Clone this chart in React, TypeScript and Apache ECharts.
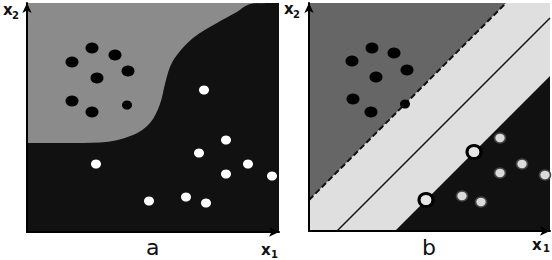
import React, { useEffect, useRef } from "react";
import * as echarts from "echarts";

// Panel a: decision boundary (x, y in panel units, y up from bottom)
const boundaryA: number[][] = [
  [0, 89], [40, 89], [73, 89.5], [106, 97], [123, 109], [133, 128], [138, 148],
  [143, 165], [150, 177], [166, 194], [190, 209], [208, 219], [226, 228.5], [252, 229],
];
const blackA: number[][] = [
  [65, 184], [88, 177], [45, 170], [101, 161], [70, 154], [45, 131], [65, 120],
];
const blackSmallA: number[][] = [[100, 127]];
const whiteA: number[][] = [
  [177, 142], [199, 92], [172, 79], [69, 68], [221, 68], [199, 58], [245, 56],
  [159, 35], [122, 31], [179, 29],
];

// Panel b: margin lines
const marginUpperB: number[][] = [[0, 31], [197, 228]];
const hyperplaneB: number[][] = [[28, 0], [241, 213]];
const marginLowerB: number[][] = [[86, 0], [241, 155]];
const blackB: number[][] = [
  [63, 183], [85, 178], [43, 170], [98, 161], [67, 154], [44, 132], [62, 119],
];
const blackSmallB: number[][] = [[96, 127]];
const whiteB: number[][] = [
  [191, 93], [213, 67], [191, 58], [236, 56], [153, 35], [172, 29],
];
const supportB: number[][] = [[165, 79], [117, 31]];

// Labels: text, x, y (baseline), size, weight
const labels: [string, number, number, number, string][] = [
  ["x", 3, 15, 15, "bold"],
  ["2", 12, 19, 10, "bold"],
  ["a", 146, 255, 22, "normal"],
  ["x", 261, 255, 15, "bold"],
  ["1", 271, 258, 10, "bold"],
  ["x", 284, 14, 15, "bold"],
  ["2", 293, 18, 10, "bold"],
  ["b", 422, 255, 22, "normal"],
  ["x", 532, 250, 15, "bold"],
  ["1", 543, 252, 10, "bold"],
];

export default function App() {
  const ref = useRef<HTMLDivElement>(null);
  useEffect(() => {
    if (!ref.current) return;
    const chart = echarts.init(ref.current, undefined, { renderer: "svg" });
    const axisCommon = (max: number, gridIndex: number) => ({
      type: "value",
      gridIndex,
      min: 0,
      max,
      z: 10,
      axisLine: {
        show: true,
        onZero: false,
        symbol: ["none", "arrow"],
        symbolSize: [7, 10],
        lineStyle: { color: "#000", width: 2 },
      },
      axisTick: { show: false },
      axisLabel: { show: false },
      splitLine: { show: false },
    });
    const lineS = (data: number[][], xi: number, extra: any) => ({
      type: "line",
      xAxisIndex: xi,
      yAxisIndex: xi,
      data,
      symbol: "none",
      silent: true,
      ...extra,
    });
    const scat = (data: number[][], xi: number, size: any, style: any) => ({
      type: "scatter",
      xAxisIndex: xi,
      yAxisIndex: xi,
      data,
      symbol: "circle",
      symbolSize: size,
      itemStyle: { opacity: 1, ...style },
      silent: true,
      z: 5,
    });
    chart.setOption({
      animation: false,
      grid: [
        { left: 27, top: 3, width: 252, height: 229, show: true, backgroundColor: "#8b8b8b", borderWidth: 0 },
        { left: 309, top: 3, width: 241, height: 228, show: true, backgroundColor: "#dfdfdf", borderWidth: 0 },
      ],
      xAxis: [axisCommon(252, 0), axisCommon(241, 1)],
      yAxis: [axisCommon(229, 0), axisCommon(228, 1)],
      series: [
        lineS(boundaryA, 0, {
          smooth: 0.35,
          lineStyle: { width: 0 },
          areaStyle: { color: "#111", opacity: 1, origin: "start" },
        }),
        scat(blackA, 0, [13, 11], { color: "#000" }),
        scat(blackSmallA, 0, [10, 9], { color: "#000" }),
        scat(whiteA, 0, [10, 9], { color: "#fff" }),
        lineS(marginUpperB, 1, {
          lineStyle: { width: 2, color: "#111", type: [6, 3] },
          areaStyle: { color: "#666", opacity: 1, origin: "end" },
          z: 3,
        }),
        lineS(hyperplaneB, 1, { lineStyle: { width: 1.5, color: "#111" } }),
        lineS(marginLowerB, 1, {
          lineStyle: { width: 0 },
          areaStyle: { color: "#111", opacity: 1, origin: "start" },
        }),
        scat(blackB, 1, [13, 11], { color: "#000" }),
        scat(blackSmallB, 1, [10, 9], { color: "#000" }),
        scat(whiteB, 1, [11, 10], { color: "#dadada", borderColor: "#444", borderWidth: 1.5 }),
        scat(supportB, 1, [14, 13], { color: "#e6e6e6", borderColor: "#000", borderWidth: 3 }),
      ],
      graphic: labels.map(([t, x, y, size, w]) => ({
        type: "text",
        x,
        y: y - 0.35 * size,
        silent: true,
        style: {
          text: t,
          fontFamily: "DejaVu Sans",
          fontSize: size,
          fontWeight: w,
          fill: "#111",
          verticalAlign: "middle",
        },
      })),
    });
    return () => chart.dispose();
  }, []);
  return (
    <div
      ref={ref}
      style={{ position: "absolute", left: 0, top: 0, width: 552, height: 260, background: "#fff" }}
    />
  );
}
